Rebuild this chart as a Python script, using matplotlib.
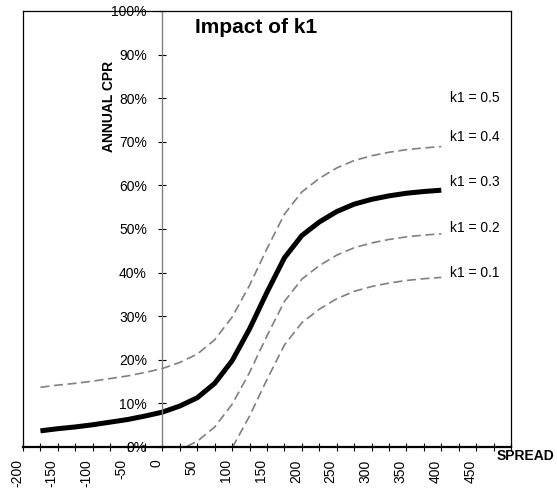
import matplotlib
matplotlib.use('Agg')
import matplotlib.pyplot as plt
from matplotlib.transforms import ScaledTranslation

plt.rcParams['font.family'] = ['Liberation Sans', 'DejaVu Sans']
plt.rcParams['lines.scale_dashes'] = False

# spread grid (bp)
spread = [-175, -150, -125, -100, -75, -50, -25, 0, 25, 50, 75, 100,
          125, 150, 175, 200, 225, 250, 275, 300, 325, 350, 375, 400]

# annual CPR (%) for each k1 value
cpr_k04 = [13.7, 14.2, 14.6, 15.1, 15.7, 16.3, 17.1, 18.0, 19.4, 21.3, 24.6, 29.8,
           37.1, 45.5, 53.4, 58.5, 61.6, 64.0, 65.7, 66.8, 67.6, 68.2, 68.6, 68.9]
cpr_k03 = [3.7, 4.2, 4.6, 5.1, 5.7, 6.3, 7.1, 8.0, 9.4, 11.3, 14.6, 19.8,
           27.1, 35.5, 43.4, 48.5, 51.6, 54.0, 55.7, 56.8, 57.6, 58.2, 58.6, 58.9]
cpr_k02 = [-6.3, -5.8, -5.4, -4.9, -4.3, -3.7, -2.9, -2.0, -0.6, 1.3, 4.6, 9.8,
           17.1, 25.5, 33.4, 38.5, 41.6, 44.0, 45.7, 46.8, 47.6, 48.2, 48.6, 48.9]
cpr_k01 = [-16.3, -15.8, -15.4, -14.9, -14.3, -13.7, -12.9, -12.0, -10.6, -8.7, -5.4, -0.2,
           7.1, 15.5, 23.4, 28.5, 31.6, 34.0, 35.7, 36.8, 37.6, 38.2, 38.6, 38.9]

k1_labels = ['k1 = 0.5', 'k1 = 0.4', 'k1 = 0.3', 'k1 = 0.2', 'k1 = 0.1']
k1_label_y = [80, 71, 60.7, 50.2, 39.8]

x_ticks = list(range(-200, 501, 25))
x_tick_labels = [str(v) if (v % 50 == 0 and v < 500) else '' for v in x_ticks]
y_ticks = list(range(0, 101, 10))
y_tick_labels = [f'{v}%' for v in y_ticks]

fig = plt.figure(figsize=(5.57, 4.91), dpi=100)
ax = fig.add_axes([23 / 557, 1 - 447 / 491, (511 - 23) / 557, (447 - 11) / 491])

dash = (6.5, 3.3)
gray = '#808080'
ax.plot(spread, cpr_k04, color=gray, lw=1.2, dashes=dash)
ax.plot(spread, cpr_k02, color=gray, lw=1.2, dashes=dash)
ax.plot(spread, cpr_k01, color=gray, lw=1.2, dashes=dash)
ax.plot(spread, cpr_k03, color='black', lw=3.6, solid_capstyle='butt')

ax.set_xlim(-200, 500)
ax.set_ylim(0, 100)

for lab, y in zip(k1_labels, k1_label_y):
    ax.text(413, y, lab, fontsize=10, ha='left', va='center')

# spines: y axis crosses at spread = 0
ax.spines['left'].set_position(('data', 0))
ax.spines['left'].set_color(gray)
ax.spines['left'].set_linewidth(1.0)
ax.spines['bottom'].set_linewidth(1.6)
ax.spines['top'].set_linewidth(0.9)
ax.spines['right'].set_linewidth(0.9)
ax.plot([0, 0], [0, 1], transform=ax.transAxes, color='black', lw=0.9,
        clip_on=False, zorder=3)

ax.set_yticks(y_ticks)
ax.set_yticklabels(y_tick_labels)
ax.tick_params(axis='y', direction='inout', length=5.8, width=0.8, color='black',
               pad=8.3, labelsize=10)
ax.set_xticks(x_ticks)
ax.set_xticklabels(x_tick_labels, rotation=90, va='top', ha='center')
ax.tick_params(axis='x', direction='inout', length=5.8, width=0.8, color='black',
               pad=6.0, labelsize=10)
shift = ScaledTranslation(-0.06, 0, fig.dpi_scale_trans)
for lab in ax.get_xticklabels():
    lab.set_transform(lab.get_transform() + shift)

fig.text(256.5 / 557, 1 - 33 / 491, 'Impact of k1', fontsize=15, fontweight='bold',
         ha='center', va='baseline')
fig.text(109 / 557, 1 - 106.5 / 491, 'ANNUAL CPR', fontsize=10, fontweight='bold',
         rotation=90, ha='center', va='center')
fig.text(497 / 557, 1 - 456 / 491, 'SPREAD', fontsize=10, fontweight='bold',
         ha='left', va='center')

fig.savefig('out.png', dpi=100)
